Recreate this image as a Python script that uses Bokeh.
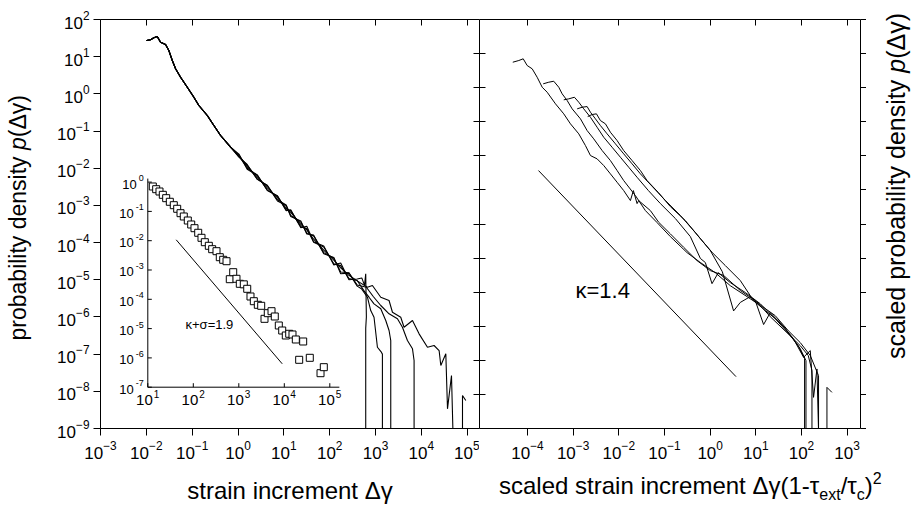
import numpy as np
from bokeh.plotting import figure
from bokeh.models import (LogAxis, FixedTicker, CustomJSTickFormatter, Range1d,
                          LogScale, Div)
from bokeh.layouts import row, column
from bokeh.embed import file_html
from bokeh.resources import INLINE
from bokeh.core.properties import value

FONT = "Liberation Sans"

# ---------------- texts ----------------
left_x_title = "strain increment Δγ"
left_y_title_html = "probability density <i>p</i>(Δγ)"
right_y_title_html = "scaled probability density <i>p</i>(Δγ)"
right_x_title_html = ("scaled strain increment Δγ(1-τ<span style='font-size:16px;position:relative;top:6px;'>ext</span>"
                      "/τ<span style='font-size:16px;position:relative;top:6px;'>c</span>)"
                      "<span style='font-size:16px;position:relative;top:-10px;'>2</span>")

# ---------------- ticks ----------------
left_x_ticks = [1e-3, 1e-2, 1e-1, 1e0, 1e1, 1e2, 1e3, 1e4, 1e5]
left_y_ticks = [1e-9, 1e-8, 1e-7, 1e-6, 1e-5, 1e-4, 1e-3, 1e-2, 1e-1, 1e0, 1e1, 1e2]
right_x_ticks = [1e-4, 1e-3, 1e-2, 1e-1, 1e0, 1e1, 1e2, 1e3]
right_y_ticks = [1e-10, 1e-9, 1e-8, 1e-7, 1e-6, 1e-5, 1e-4, 1e-3, 1e-2, 1e-1, 1e0, 1e1, 1e2]
inset_x_ticks = [1e1, 1e2, 1e3, 1e4, 1e5]
inset_x_exps = ["1", "2", "3", "4", "5"]
inset_y_ticks = [1e0, 1e-1, 1e-2, 1e-3, 1e-4, 1e-5, 1e-6, 1e-7]
inset_y_exps = ["0", "-1", "-2", "-3", "-4", "-5", "-6", "-7"]

# ---------------- left panel data (log10 of values; -12 = zero count) ----------------
left_head_lx = [-1.996, -1.908, -1.836, -1.762, -1.690, -1.581, -1.509, -1.434, -1.362,
                -1.253, -1.107, -0.963, -0.854, -0.670, -0.526, -0.380, -0.162]
left_head_ly = [1.435, 1.454, 1.508, 1.543, 1.389, 1.328, 1.166, 0.897, 0.674,
                0.448, 0.179, -0.090, -0.313, -0.582, -0.851, -1.120, -1.435]
left_body_lx = [0.02, 0.2, 0.42, 0.64, 0.86, 1.05, 1.15, 1.37, 1.5, 1.65, 1.87, 2.09, 2.24, 2.42, 2.6]
c1_body_ly = [-1.66, -2.00, -2.18, -2.60, -2.74, -3.14, -3.12, -3.60, -3.56, -3.98, -4.09, -4.60, -4.55, -5.00, -4.98]
c2_body_ly = [-1.70, -1.90, -2.30, -2.46, -2.88, -3.00, -3.30, -3.42, -3.77, -3.80, -4.30, -4.40, -4.84, -4.82, -5.17]
c3_body_ly = [-1.62, -2.03, -2.19, -2.59, -2.75, -3.12, -3.14, -3.57, -3.62, -3.99, -4.12, -4.57, -4.62, -4.97, -5.02]
c4_body_ly = [-1.69, -1.92, -2.29, -2.47, -2.85, -2.99, -3.27, -3.45, -3.74, -3.82, -4.27, -4.42, -4.79, -4.81, -5.14]
c5_body_ly = [-1.65, -1.96, -2.23, -2.53, -2.79, -3.07, -3.19, -3.51, -3.66, -3.91, -4.20, -4.47, -4.68, -4.88, -5.03]
c1_tail_lx = [2.70, 2.76, 2.786, 2.80, 2.786, 2.786]
c1_tail_ly = [-4.95, -5.15, -4.84, -6.00, -6.30, -12]
c2_tail_lx = [2.70, 2.823, 2.895, 2.967, 3.041, 3.127, 3.150, 3.150]
c2_tail_ly = [-5.25, -5.469, -5.827, -6.007, -6.814, -6.948, -7.0, -12]
c3_tail_lx = [2.75, 2.858, 2.967, 3.114, 3.223, 3.295, 3.332, 3.332]
c3_tail_ly = [-5.30, -5.469, -5.647, -5.781, -6.096, -6.365, -6.634, -12]
c4_tail_lx = [2.80, 2.95, 3.114, 3.295, 3.478, 3.587, 3.696, 3.806, 3.841, 3.841]
c4_tail_ly = [-5.20, -5.45, -5.692, -5.915, -6.050, -6.276, -6.634, -6.857, -7.170, -12]
c5_tail_lx = [2.823, 2.932, 3.114, 3.295, 3.369, 3.550, 3.622, 3.806, 3.950, 4.133, 4.277,
              4.387, 4.424, 4.533, 4.570, 4.657, 4.751, 4.897, 4.897, 4.969]
c5_tail_ly = [-5.200, -5.154, -5.469, -5.558, -5.873, -6.007, -6.276, -6.096, -6.454, -6.814, -6.768,
              -6.903, -7.306, -6.991, -8.471, -7.575, -12, -12, -8.113, -8.248]

# ---------------- inset data (log10) ----------------
sq_lx = [1.110, 1.184, 1.257, 1.330, 1.404, 1.484, 1.571, 1.646, 1.719, 1.791, 1.879, 1.954,
         2.026, 2.108, 2.180, 2.253, 2.341, 2.415, 2.510, 2.582, 2.657, 2.730, 2.802, 2.877,
         2.949, 3.022, 3.110, 3.185, 3.257, 3.330, 3.418, 3.492, 3.565, 3.637, 3.719, 3.791,
         3.879, 3.954, 4.033, 4.108, 4.180, 4.253, 4.415, 4.327, 4.560, 4.796, 4.868]
sq_ly = [-0.150, -0.242, -0.321, -0.434, -0.549, -0.672, -0.788, -0.911, -1.061, -1.174, -1.311, -1.447,
         -1.573, -1.730, -1.901, -2.051, -2.174, -2.290, -2.358, -2.563, -2.652, -2.700, -3.314, -3.075,
         -3.300, -3.471, -3.490, -3.642, -3.904, -4.065, -4.188, -4.222, -4.666, -4.474, -4.406, -4.587,
         -4.894, -5.065, -5.235, -5.177, -5.201, -5.372, -5.440, -6.065, -5.997, -6.522, -6.317]
inset_fit_lx = [1.624, 3.954]
inset_fit_ly = [-1.969, -6.201]
inset_note = "κ+σ=1.9"

# ---------------- right panel data (log10) ----------------
rA_lx = [-4.322, -4.190, -4.094, -4.007, -3.897, -3.788, -3.678, -3.569, -3.387, -3.206, -3.059,
         -2.877, -2.731, -2.621, -2.475, -2.330, -2.184, -2.037, -1.893, -1.746, -1.681, -1.600,
         -1.565, -1.309, -1.127, -0.871, -0.580, -0.287, 0.004, 0.296, 0.661, 0.989, 1.171, 1.317,
         1.645, 1.930, 2.068, 2.068]
rA_ly = [0.747, 0.797, 0.847, 0.650, 0.553, 0.306, 0.013, -0.134, -0.474, -0.768, -1.061,
         -1.355, -1.698, -1.992, -2.089, -2.285, -2.529, -2.776, -3.019, -3.313, -3.019, -3.401,
         -3.313, -3.606, -3.949, -4.290, -4.683, -5.074, -5.367, -5.510, -5.950, -6.250, -6.950, -6.600,
         -7.070, -7.570, -7.950, -12]
rB_lx = [-3.656, -3.534, -3.425, -3.315, -3.241, -3.131, -3.022, -2.840, -2.694, -2.549, -2.365,
         -2.184, -2.037, -1.893, -1.637, -1.418, -1.162, -0.871, -0.505, -0.214, 0.114, 0.442,
         0.808, 1.098, 1.317, 1.683, 1.974, 2.149, 2.230, 2.230]
rB_ly = [0.113, 0.160, 0.189, 0.013, -0.181, -0.377, -0.621, -0.915, -1.258, -1.502, -1.845,
         -2.139, -2.432, -2.726, -3.166, -3.606, -3.958, -4.370, -4.840, -5.130, -5.430, -5.810,
         -6.130, -6.390, -6.720, -7.190, -7.570, -7.860, -8.300, -12]
rC_lx = [-3.206, -3.096, -2.972, -2.877, -2.768, -2.621, -2.475, -2.330, -2.147, -1.965, -1.783,
         -1.600, -1.352, -1.090, -0.761, -0.433, -0.214, -0.105, 0.041, 0.179, 0.442, 0.770,
         1.098, 1.426, 1.755, 1.974, 2.099, 2.099]
rC_ly = [-0.357, -0.328, -0.281, -0.427, -0.621, -0.868, -1.161, -1.455, -1.748, -2.042, -2.335,
         -2.629, -3.019, -3.400, -3.840, -4.370, -5.010, -5.130, -5.750, -5.430, -5.720, -6.010,
         -6.340, -6.780, -7.270, -7.660, -8.010, -12]
rD_lx = [-2.912, -2.803, -2.694, -2.621, -2.512, -2.403, -2.256, -2.074, -1.893, -1.709, -1.527,
         -1.265, -0.980, -0.652, -0.324, 0.004, 0.267, 0.514, 0.661, 0.880, 1.142, 1.426, 1.711,
         1.974, 2.193, 2.374, 2.374]
rD_ly = [-0.621, -0.574, -0.554, -0.721, -0.915, -1.111, -1.355, -1.648, -1.942, -2.235, -2.529,
         -2.902, -3.310, -3.750, -4.250, -4.780, -5.400, -6.550, -6.300, -6.130, -6.420, -6.690, -7.130,
         -7.480, -7.860, -8.450, -12]
rE_lx = [-2.681, -2.584, -2.490, -2.403, -2.293, -2.184, -2.037, -1.893, -1.709, -1.527, -1.381,
         -1.133, -0.871, -0.543, -0.214, 0.048, 0.333, 0.661, 0.952, 1.208, 1.536, 1.821, 2.046,
         2.193, 2.265, 2.339, 2.411, 2.558, 2.558, 2.667]
rE_ly = [-0.847, -0.788, -0.768, -0.965, -1.061, -1.308, -1.552, -1.845, -2.139, -2.432, -2.726,
         -3.078, -3.490, -3.900, -4.430, -4.840, -5.220, -5.660, -6.250, -6.540, -6.890, -7.360, -7.910,
         -7.715, -9.086, -8.253, -12, -12, -8.793, -8.940]
right_fit_lx = [-3.759, 0.567]
right_fit_ly = [-2.432, -8.478]
right_note = "κ=1.4"


def dec(a):
    return (10.0 ** np.asarray(a, dtype=float)).tolist()


def style_axis(ax, ticks, labels=True, tin=0, tout=6):
    ax.ticker = FixedTicker(ticks=ticks)
    ax.major_tick_in = tin
    ax.major_tick_out = tout
    ax.minor_tick_in = 0
    ax.minor_tick_out = 0
    ax.axis_line_color = "black"
    ax.axis_line_width = 1
    ax.major_tick_line_color = "black"
    ax.major_tick_line_width = 1
    ax.major_label_text_font = FONT
    ax.major_label_text_font_size = "17px"
    ax.major_label_text_color = "black"
    ax.axis_label_text_font = FONT
    ax.axis_label_text_font_size = "24px"
    ax.axis_label_text_font_style = "normal"
    ax.axis_label_text_color = "black"
    if not labels:
        ax.formatter = CustomJSTickFormatter(code="return ''")
        ax.major_label_text_font_size = "0px"
        ax.major_label_standoff = 0


def vtext_div(html, width, height, size, left, top):
    style = ("display:inline-block;writing-mode:vertical-rl;transform:rotate(180deg);"
             f"font-family:'{FONT}';font-size:{size}px;color:black;white-space:nowrap;"
             f"margin-left:{left}px;margin-top:{top}px;line-height:1.15;")
    return Div(text=f"<div style=\"{style}\">{html}</div>", width=width, height=height, margin=0)


# ================= left y title =================
divL = vtext_div(left_y_title_html, 50, 506, 23, 5, 95)

# ================= left figure =================
p1 = figure(width=429, height=506, x_axis_type="log", y_axis_type="log",
            x_range=Range1d(1e-3, 10 ** 5.268), y_range=Range1d(1e-9, 1e2),
            output_backend="svg", toolbar_location=None,
            min_border_left=50, min_border_right=0, min_border_top=19, min_border_bottom=78,
            outline_line_color=None, background_fill_color="white", border_fill_color="white")
p1.xgrid.visible = False
p1.ygrid.visible = False
p1.extra_x_ranges = {"ix": Range1d(10 ** -0.0396, 10 ** 8.290)}
p1.extra_x_scales = {"ix": LogScale()}
p1.extra_y_ranges = {"iy": Range1d(10 ** -8.4096, 10 ** 5.5495), "ry": Range1d(1e-10, 1e2)}
p1.extra_y_scales = {"iy": LogScale(), "ry": LogScale()}

bx = p1.below[0]
style_axis(bx, left_x_ticks, tout=7)
bx.axis_label = left_x_title
bx.major_label_standoff = 5
bx.axis_label_standoff = 15
ly = p1.left[0]
style_axis(ly, left_y_ticks, tout=7)
ly.major_label_standoff = 4

top1 = LogAxis()
style_axis(top1, left_x_ticks, labels=False, tin=6, tout=0)
p1.add_layout(top1, "above")
div1 = LogAxis(y_range_name="ry")
style_axis(div1, right_y_ticks, labels=False, tin=6, tout=0)
div1.axis_line_color = None
p1.add_layout(div1, "right")

curves_left = [
    (c1_body_ly, c1_tail_lx, c1_tail_ly),
    (c2_body_ly, c2_tail_lx, c2_tail_ly),
    (c3_body_ly, c3_tail_lx, c3_tail_ly),
    (c4_body_ly, c4_tail_lx, c4_tail_ly),
    (c5_body_ly, c5_tail_lx, c5_tail_ly),
]
for body_ly, tail_lx, tail_ly in curves_left:
    xs = dec(left_head_lx + left_body_lx + tail_lx)
    ys = dec(left_head_ly + body_ly + tail_ly)
    p1.line(xs, ys, line_color="black", line_width=1.1)

# ---- inset (drawn on its own log ranges) ----
INS = dict(x_range_name="ix", y_range_name="iy")
x_lo, x_hi = inset_x_ticks[0], 10 ** 5.21
y_lo, y_hi = inset_y_ticks[-1], 10 ** 0.12
p1.segment(x0=[x_lo, x_lo], y0=[y_lo, y_lo], x1=[x_lo, x_hi], y1=[y_hi, y_lo],
           line_color="black", line_width=1, **INS)
tick_fx = 10 ** (4 / 45.5)
tick_fy = 10 ** (4 / 29.3)
p1.segment(x0=[x_lo] * len(inset_y_ticks), y0=inset_y_ticks,
           x1=[x_lo * tick_fx] * len(inset_y_ticks), y1=inset_y_ticks,
           line_color="black", line_width=1, **INS)
p1.segment(x0=inset_x_ticks, y0=[y_lo] * len(inset_x_ticks),
           x1=inset_x_ticks, y1=[y_lo * tick_fy] * len(inset_x_ticks),
           line_color="black", line_width=1, **INS)
p1.text(x=inset_x_ticks, y=[y_lo] * len(inset_x_ticks), text=["10"] * len(inset_x_ticks),
        text_font=value(FONT), text_font_size=value("15px"), text_align="right",
        text_baseline="top", x_offset=5, y_offset=8, text_color="black", **INS)
p1.text(x=inset_x_ticks, y=[y_lo] * len(inset_x_ticks), text=inset_x_exps,
        text_font=value(FONT), text_font_size=value("10px"), text_align="left",
        text_baseline="top", x_offset=6, y_offset=3, text_color="black", **INS)
base_off = [-11 if e == "0" else -14 for e in inset_y_exps]
p1.text(x=[x_lo] * len(inset_y_ticks), y=inset_y_ticks, text=["10"] * len(inset_y_ticks),
        text_font=value(FONT), text_font_size=value("13px"), text_align="right",
        text_baseline="middle", x_offset=base_off, y_offset=2, text_color="black", **INS)
p1.text(x=[x_lo] * len(inset_y_ticks), y=inset_y_ticks, text=inset_y_exps,
        text_font=value(FONT), text_font_size=value("9px"), text_align="right",
        text_baseline="middle", x_offset=-4, y_offset=-4, text_color="black", **INS)
p1.scatter(dec(sq_lx), dec(sq_ly), marker="square", size=7, fill_color="white",
           line_color="black", line_width=1, **INS)
p1.line(dec(inset_fit_lx), dec(inset_fit_ly), line_color="black", line_width=1, **INS)
p1.text(x=[10 ** 1.829], y=[10 ** -4.86], text=[inset_note], text_font=value(FONT),
        text_font_size=value("13px"), text_align="left", text_baseline="middle",
        text_color="black", **INS)

# ================= right figure =================
p2 = figure(width=387, height=470, x_axis_type="log", y_axis_type="log",
            x_range=Range1d(10 ** -5.051, 10 ** 3.293), y_range=Range1d(1e-10, 1e2),
            output_backend="svg", toolbar_location=None,
            min_border_left=0, min_border_right=6, min_border_top=19, min_border_bottom=42,
            outline_line_color=None, background_fill_color="white", border_fill_color="white")
p2.xgrid.visible = False
p2.ygrid.visible = False
bx2 = p2.below[0]
style_axis(bx2, right_x_ticks, tout=7)
bx2.major_label_standoff = 5
ly2 = p2.left[0]
style_axis(ly2, right_y_ticks, labels=False, tin=6, tout=0)
top2 = LogAxis()
style_axis(top2, right_x_ticks, labels=False, tin=6, tout=0)
p2.add_layout(top2, "above")
ry2 = LogAxis()
style_axis(ry2, right_y_ticks, labels=False, tin=0, tout=6)
p2.add_layout(ry2, "right")

for lx, lyv in [(rA_lx, rA_ly), (rB_lx, rB_ly), (rC_lx, rC_ly), (rD_lx, rD_ly), (rE_lx, rE_ly)]:
    p2.line(dec(lx), dec(lyv), line_color="black", line_width=1)
p2.line(dec(right_fit_lx), dec(right_fit_ly), line_color="black", line_width=1)
p2.text(x=[10 ** -2.949], y=[10 ** -5.954], text=[right_note], text_font=value(FONT),
        text_font_size=value("22px"), text_align="left", text_baseline="middle",
        text_color="black")

divR = vtext_div(right_y_title_html, 48, 470, 25, 16, 13)
divB = Div(text=(f"<div style=\"font-family:'{FONT}';font-size:24px;color:black;white-space:nowrap;"
                 f"padding-left:20px;padding-top:4px;line-height:24px;\">{right_x_title_html}</div>"),
           width=435, height=36, margin=0)

layout = row(divL, p1, column(row(p2, divR, spacing=0), divB, spacing=0), spacing=0)
open("out.html", "w").write(file_html(layout, INLINE))
